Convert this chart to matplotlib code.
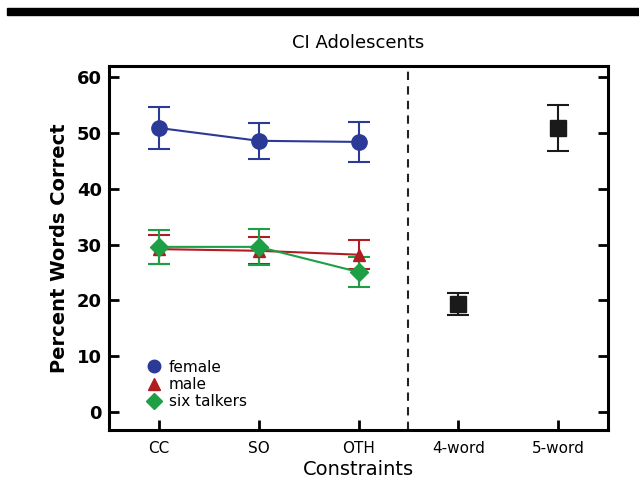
import matplotlib
matplotlib.use("Agg")
import matplotlib.pyplot as plt
from matplotlib.lines import Line2D
from matplotlib.patches import Rectangle

tick_labels = ["CC", "SO", "OTH", "4-word", "5-word"]
constraint_pos = [0, 1, 2]
female = [50.9, 48.6, 48.4]
female_lo = [47.1, 45.3, 44.8]
female_hi = [54.7, 51.8, 52.0]
male = [29.2, 28.9, 28.2]
male_lo = [26.6, 26.5, 25.6]
male_hi = [31.8, 31.3, 30.8]
six = [29.6, 29.6, 25.1]
six_lo = [26.5, 26.3, 22.5]
six_hi = [32.7, 32.8, 27.8]
word_pos = [3, 4]
word = [19.4, 50.9]
word_lo = [17.4, 46.8]
word_hi = [21.4, 55.0]

fig = plt.figure(figsize=(6.39, 4.91), dpi=100)
W, H = 639, 491
ax = fig.add_axes([109 / W, 1 - 430 / H, (608 - 109) / W, (430 - 66) / H])

fig.patches.append(Rectangle((7 / W, 1 - 15 / H), 1 - 7 / W, 7 / H,
                             transform=fig.transFigure, color="black", zorder=0))

def err(vals, lo, hi):
    return [[v - l for v, l in zip(vals, lo)], [h - v for v, h in zip(vals, hi)]]

blue = "#2b3a97"
red = "#b01c22"
green = "#1da045"

ax.errorbar(constraint_pos, female, yerr=err(female, female_lo, female_hi), color=blue,
            marker="o", ms=11, lw=1.5, capsize=8, capthick=1.5, elinewidth=1.5)
ax.errorbar(constraint_pos, male, yerr=err(male, male_lo, male_hi), color=red,
            marker="^", ms=9, lw=1.5, capsize=8, capthick=1.5, elinewidth=1.5)
ax.errorbar(constraint_pos, six, yerr=err(six, six_lo, six_hi), color=green,
            marker="D", ms=9, lw=1.5, capsize=8, capthick=1.5, elinewidth=1.5)
ax.errorbar(word_pos, word, yerr=err(word, word_lo, word_hi), color="#1a1a1a",
            marker="s", ms=11, lw=0, capsize=8, capthick=1.5, elinewidth=1.5)

ax.axvline(2.5, color="#222222", ls=(0, (4, 3)), lw=1.5)

ax.set_xlim(-0.5, 4.5)
ax.set_ylim(-3.2, 62)
ax.set_xticks(range(5))
ax.set_xticklabels(tick_labels, fontsize=11)
ax.set_yticks(range(0, 61, 10))
ax.set_yticklabels([str(v) for v in range(0, 61, 10)], fontsize=13, fontweight="bold")
ax.tick_params(axis="y", direction="in", right=True, length=7, width=2, pad=5)
ax.tick_params(axis="x", direction="in", length=7, width=2, pad=8)
for s in ax.spines.values():
    s.set_linewidth(2.2)

ax.set_title("CI Adolescents", fontsize=13, pad=13)
ax.set_ylabel("Percent Words Correct", fontsize=14, fontweight="bold", labelpad=6)
ax.set_xlabel("Constraints", fontsize=14, labelpad=3)

handles = [
    Line2D([], [], color=blue, marker="o", ls="none", ms=9),
    Line2D([], [], color=red, marker="^", ls="none", ms=9),
    Line2D([], [], color=green, marker="D", ls="none", ms=8),
]
ax.legend(handles, ["female", "male", "six talkers"], loc="lower left",
          bbox_to_anchor=(0.062, 0.04), frameon=False, fontsize=11,
          handlelength=1.0, handletextpad=0.5, labelspacing=0.15, borderaxespad=0)

fig.savefig("out.png", dpi=100)
